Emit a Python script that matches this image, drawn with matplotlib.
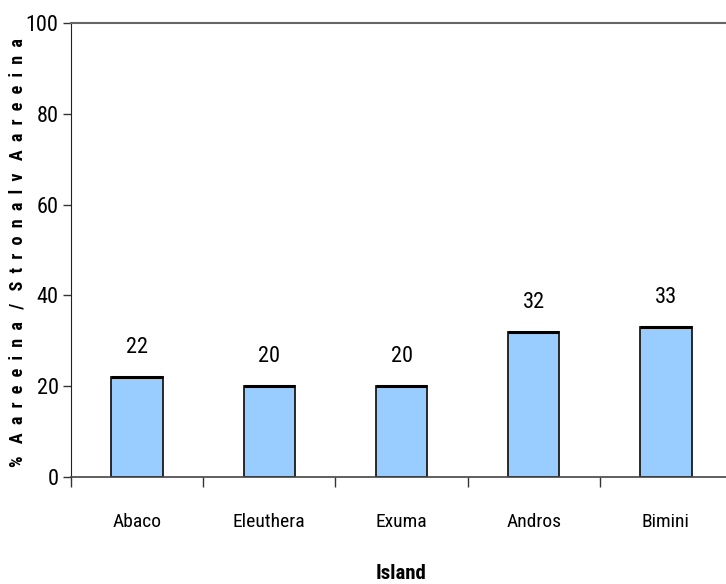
import matplotlib
matplotlib.use("Agg")
import matplotlib.pyplot as plt
from matplotlib import font_manager
from matplotlib.font_manager import FontProperties
import numpy as np

islands = ["Abaco", "Eleuthera", "Exuma", "Andros", "Bimini"]
values = [22, 20, 20, 32, 33]
y_ticks = [0, 20, 40, 60, 80, 100]

# Prefer a narrow sans face for all text; fall back to a regular one.
names = {f.name for f in font_manager.fontManager.ttflist}
narrow = None
for cand in ["Liberation Sans Narrow", "Arial Narrow", "Roboto Condensed",
             "Open Sans Condensed", "DejaVu Sans Condensed"]:
    if cand in names:
        narrow = (cand, "normal")
        break
if narrow is None:
    path = font_manager.findfont(FontProperties(family="DejaVu Sans", stretch="condensed"))
    if "Condensed" in path:
        narrow = ("DejaVu Sans", "condensed")
if narrow is None:
    narrow = ("Liberation Sans", "normal")

plt.rcParams["font.family"] = [narrow[0], "DejaVu Sans"]
plt.rcParams["font.stretch"] = narrow[1]

fig = plt.figure(figsize=(7.26, 5.84), dpi=100)
ax = fig.add_axes([71 / 726, 1 - 477 / 584, 661 / 726, 454 / 584])

x = np.arange(len(islands))
ax.bar(x, values, width=0.39, color="#99CCFF", edgecolor="#1a1a1a", linewidth=1.3, zorder=2)
ax.hlines(values, x - 0.195, x + 0.195, color="black", linewidth=2.2, zorder=3)
for xi, v in zip(x, values):
    ax.text(xi, v + 4.2, f"{v}", ha="center", va="bottom", fontsize=16)

ax.set_xlim(-0.5, len(islands) - 0.5)
ax.set_ylim(0, 100)
ax.set_yticks(y_ticks)
ax.set_yticklabels([str(t) for t in y_ticks], fontsize=16)
ax.set_xticks(x)
ax.set_xticklabels(islands, fontsize=14)
ax.tick_params(axis="x", length=0, pad=26)
ax.set_xticks(np.arange(len(islands) + 1) - 0.5, minor=True)
ax.tick_params(axis="x", which="minor", length=7, width=1, color="#333333", direction="out")
ax.tick_params(axis="y", length=6, width=1, color="#333333", direction="out", pad=3)

ax.spines["right"].set_visible(False)
ax.spines["left"].set_color("#222222")
ax.spines["bottom"].set_color("#444444")
ax.spines["top"].set_color("#666666")
ax.spines["top"].set_linewidth(1.5)
ax.spines["bottom"].set_linewidth(1.2)

ax.set_xlabel("Island", fontsize=15, fontweight="bold", labelpad=24)
ylabel = "   ".join("  ".join(word) for word in ["%", "Aareeina", "/", "Stronalv", "Aareeina"])
ax.set_ylabel(ylabel, fontsize=13, fontweight="bold")
ax.yaxis.set_label_coords(-0.067, 0.495)

fig.savefig("out.png", dpi=100)
